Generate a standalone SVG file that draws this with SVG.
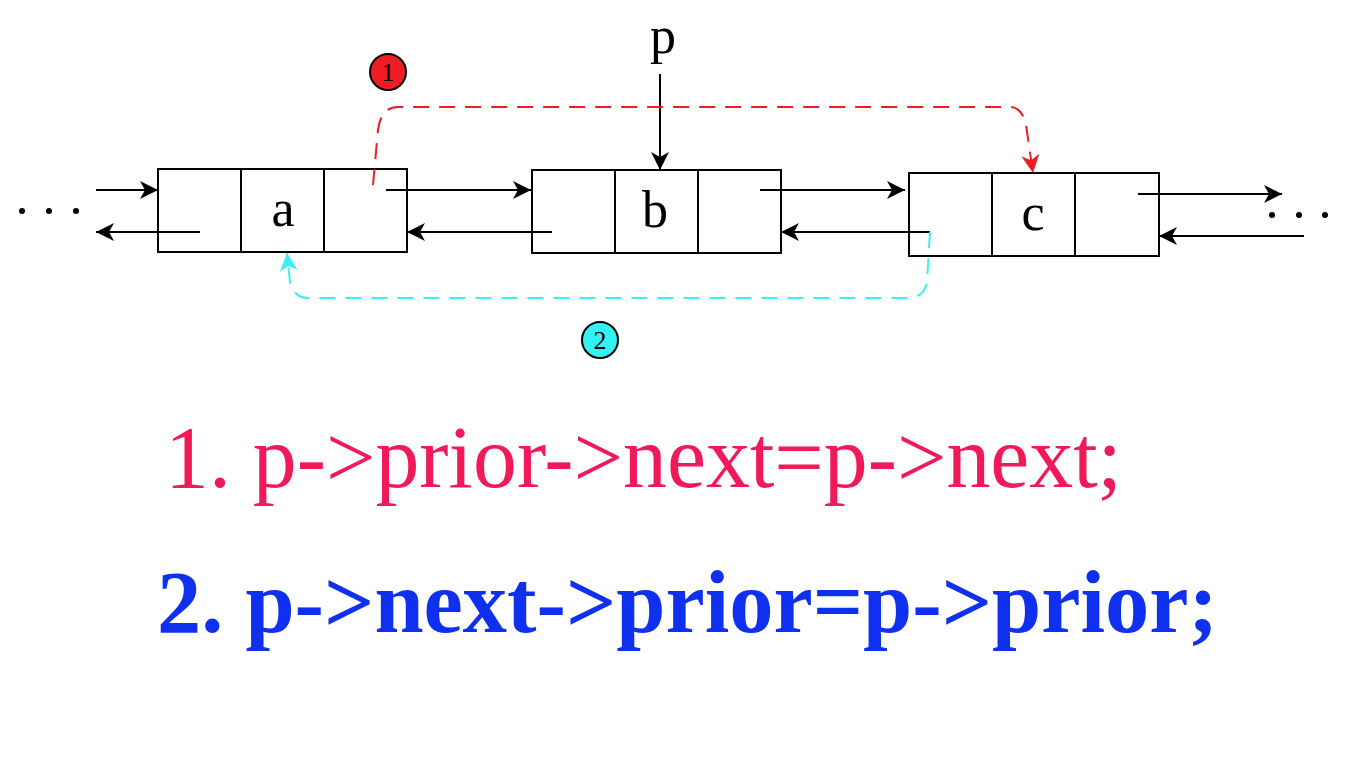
<svg xmlns="http://www.w3.org/2000/svg" width="1354" height="762" viewBox="0 0 1354 762">
<style>
.box{fill:none;stroke:#000;stroke-width:2}
.ln{fill:none;stroke:#000;stroke-width:2}
.lbl{font-family:"Liberation Serif","DejaVu Serif",serif;font-size:52px;fill:#000;text-anchor:middle}
.dot{fill:#000}
.num{font-family:"Liberation Serif","DejaVu Serif",serif;font-size:26px;fill:#000;text-anchor:middle}
</style>
<defs>
<marker id="ahk" viewBox="0 0 18 18" refX="18" refY="9" markerWidth="18" markerHeight="18" markerUnits="userSpaceOnUse" orient="auto">
<path d="M0,0 L18,9 L0,18 L5,9 Z" fill="#000"/>
</marker>
<marker id="ahr" viewBox="0 0 18 18" refX="18" refY="9" markerWidth="18" markerHeight="18" markerUnits="userSpaceOnUse" orient="auto">
<path d="M0,0 L18,9 L0,18 L5,9 Z" fill="#ee1c24"/>
</marker>
<marker id="ahc" viewBox="0 0 18 18" refX="18" refY="9" markerWidth="18" markerHeight="18" markerUnits="userSpaceOnUse" orient="auto">
<path d="M0,0 L18,9 L0,18 L5,9 Z" fill="#3df0f0"/>
</marker>
</defs>
<rect width="1354" height="762" fill="#fff"/>

<g id="dots-left">
<circle class="dot" cx="22" cy="211" r="3"/>
<circle class="dot" cx="49" cy="211" r="3"/>
<circle class="dot" cx="76" cy="211" r="3"/>
</g>
<g id="dots-right">
<circle class="dot" cx="1272" cy="215" r="3"/>
<circle class="dot" cx="1299" cy="215" r="3"/>
<circle class="dot" cx="1325" cy="215" r="3"/>
</g>

<g id="node-a">
<rect class="box" x="158" y="169" width="249" height="83"/>
<line class="ln" x1="241" y1="169" x2="241" y2="252"/>
<line class="ln" x1="324" y1="169" x2="324" y2="252"/>
<text class="lbl" x="283" y="226">a</text>
</g>
<g id="node-b">
<rect class="box" x="532" y="170" width="249" height="83"/>
<line class="ln" x1="615" y1="170" x2="615" y2="253"/>
<line class="ln" x1="698" y1="170" x2="698" y2="253"/>
<text class="lbl" x="655" y="227">b</text>
</g>
<g id="node-c">
<rect class="box" x="909" y="173" width="250" height="83"/>
<line class="ln" x1="992" y1="173" x2="992" y2="256"/>
<line class="ln" x1="1075" y1="173" x2="1075" y2="256"/>
<text class="lbl" x="1033" y="230">c</text>
</g>
<g id="pointer-p">
<text class="lbl" x="663" y="53">p</text>
</g>
<g id="badge-1">
<circle cx="388" cy="72" r="18" fill="#ee1c24" stroke="#000" stroke-width="2"/>
<text class="num" x="388" y="81">1</text>
</g>
<g id="badge-2">
<circle cx="600" cy="340" r="18" fill="#33f2f2" stroke="#000" stroke-width="2"/>
<text class="num" x="600" y="349">2</text>
</g>

<g id="connectors">
<line class="ln" x1="96" y1="190" x2="158" y2="190" marker-end="url(#ahk)"/>
<line class="ln" x1="200" y1="232" x2="96" y2="232" marker-end="url(#ahk)"/>
<line class="ln" x1="386" y1="190" x2="531" y2="190" marker-end="url(#ahk)"/>
<line class="ln" x1="552" y1="232" x2="407" y2="232" marker-end="url(#ahk)"/>
<line class="ln" x1="760" y1="190" x2="905" y2="190" marker-end="url(#ahk)"/>
<line class="ln" x1="930" y1="232" x2="781" y2="232" marker-end="url(#ahk)"/>
<line class="ln" x1="1138" y1="194" x2="1282" y2="194" marker-end="url(#ahk)"/>
<line class="ln" x1="1304" y1="236" x2="1159" y2="236" marker-end="url(#ahk)"/>
<line class="ln" x1="660" y1="74" x2="660" y2="170" marker-end="url(#ahk)"/>
<path d="M373,185 L378,130 Q381,107 398,107 L1010,107 Q1022,107 1026,125 L1033,173" fill="none" stroke="#ee1c24" stroke-width="2" stroke-dasharray="16,10" marker-end="url(#ahr)"/>
<path d="M930,232 L927,282 Q924,298 908,298 L308,298 Q294,298 290,282 L287,253" fill="none" stroke="#3df0f0" stroke-width="2" stroke-dasharray="16,10" marker-end="url(#ahc)"/>
</g>

<g id="code-lines">
<text x="165" y="487" font-family="'Liberation Serif','DejaVu Serif',serif" font-size="88" fill="#f01a5a" textLength="957" lengthAdjust="spacingAndGlyphs">1. p-&gt;prior-&gt;next=p-&gt;next;</text>
<text x="157" y="632" font-family="'Liberation Serif','DejaVu Serif',serif" font-size="88" font-weight="bold" fill="#1030f0" textLength="1061" lengthAdjust="spacingAndGlyphs">2. p-&gt;next-&gt;prior=p-&gt;prior;</text>
</g>
</svg>
